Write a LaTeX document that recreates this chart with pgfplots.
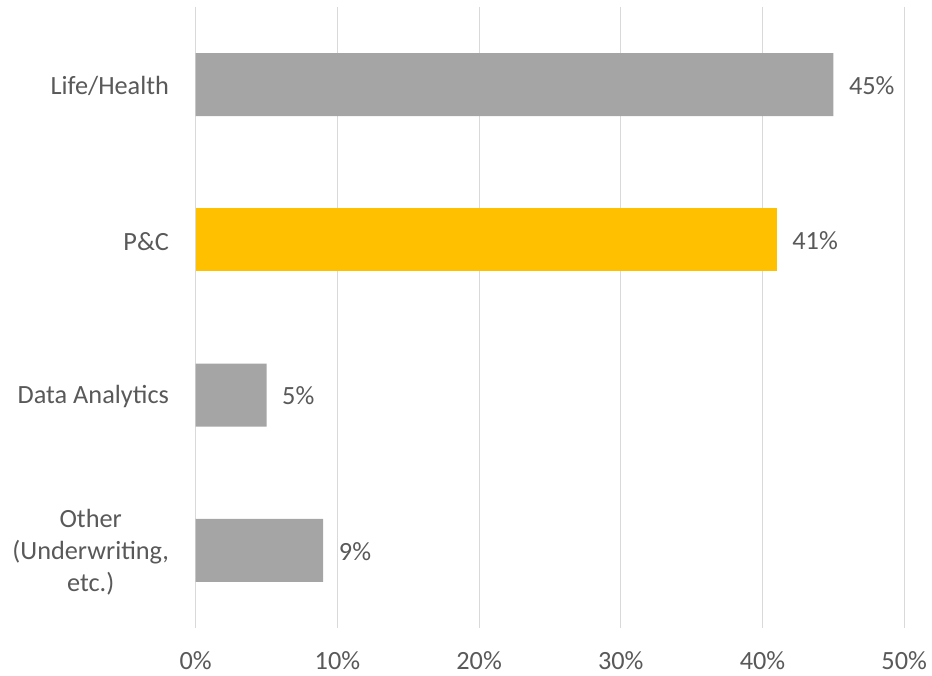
\documentclass[border=0pt]{standalone}
\usepackage{pgfplots}
\pgfplotsset{compat=1.18}
\usepackage{fontspec}
\setmainfont{Carlito}
\definecolor{txt}{HTML}{595959}
\definecolor{grid}{HTML}{D9D9D9}
\definecolor{bargray}{HTML}{A5A5A5}
\definecolor{baryellow}{HTML}{FFC000}
\begin{document}
\begin{tikzpicture}
\useasboundingbox (0,0) rectangle (932pt,675pt);
\begin{axis}[
  at={(195.7pt,47pt)}, anchor=south west,
  scale only axis, width=708.5pt, height=621pt,
  xmin=0, xmax=50, ymin=-0.5, ymax=3.5, y dir=reverse,
  /pgf/number format/assume math mode=true,
  xtick={0,10,20,30,40,50},
  xticklabels={0\%,10\%,20\%,30\%,40\%,50\%},
  ytick={0,1,2,3},
  yticklabels={Life/Health,P\&C,Data Analytics,{Other\\(Underwriting,\\etc.)}},
  major tick length=0pt,
  axis line style={draw=none},
  xmajorgrids, grid style={draw=grid, line width=1pt},
  ymajorgrids=false,
  tick label style={font=\fontsize{26.3}{32}\selectfont, text=txt},
  yticklabel style={align=center, anchor=east, inner sep=0pt, xshift=-26.5pt, yshift=-1.5pt},
  xticklabel style={anchor=base, inner sep=0pt, yshift=-41.5pt},
  xbar, bar shift=0pt, bar width=0.405,
  nodes near coords={\pgfmathprintnumber{\pgfplotspointmeta}\%},
  every node near coord/.append style={font=\fontsize{26.3}{32}\selectfont, text=txt, anchor=west, inner sep=0pt, xshift=15.5pt, yshift=-1pt},
  clip=false,
]
\addplot[fill=bargray, draw=none] coordinates {(45,0) (5,2) (9,3)};
\addplot[fill=baryellow, draw=none] coordinates {(41,1)};
\end{axis}
\end{tikzpicture}
\end{document}
